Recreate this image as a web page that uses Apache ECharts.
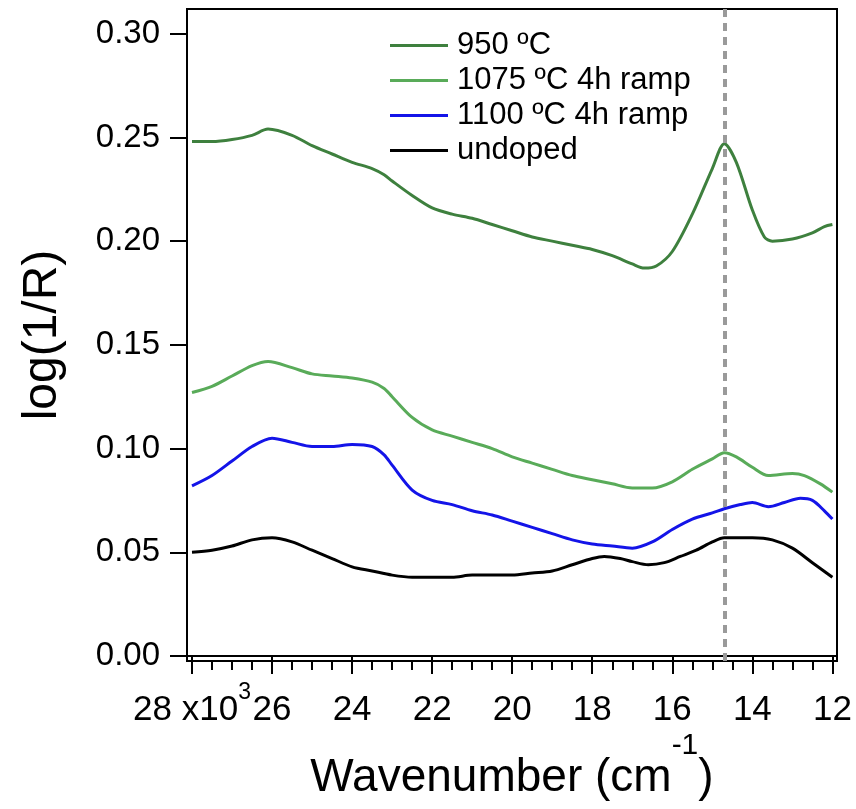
<!DOCTYPE html>
<html>
<head>
<meta charset="utf-8">
<script src="https://cdn.jsdelivr.net/npm/echarts@6/dist/echarts.min.js"></script>
<style>
  html, body { margin: 0; padding: 0; background: #fff; }
  #chart { width: 856px; height: 809px; }
</style>
</head>
<body>
<div id="chart"></div>
<script>
// wavenumber in units of 10^3 cm^-1
const wn950 = [28, 27.5, 27, 26.5, 26.1, 25.5, 25, 24.5, 24, 23.5, 23.2, 23, 22.5, 22, 21.5, 21, 20.5, 20, 19.5, 19, 18.5, 18, 17.5, 17, 16.7, 16.4, 16, 15.5, 15, 14.7, 14.4, 14, 13.7, 13.5, 13, 12.5, 12.2, 12]
const abs950 = [0.248, 0.248, 0.249, 0.251, 0.254, 0.251, 0.246, 0.242, 0.238, 0.235, 0.232, 0.229, 0.222, 0.216, 0.213, 0.211, 0.208, 0.205, 0.202, 0.200, 0.198, 0.196, 0.193, 0.189, 0.187, 0.188, 0.195, 0.213, 0.235, 0.247, 0.238, 0.215, 0.202, 0.200, 0.201, 0.204, 0.207, 0.208]

const wn1075 = [28, 27.5, 27, 26.5, 26.1, 25.5, 25, 24.5, 24, 23.5, 23.2, 23, 22.5, 22, 21.5, 21, 20.5, 20, 19.5, 19, 18.5, 18, 17.5, 17, 16.5, 16, 15.5, 15, 14.7, 14.4, 14, 13.6, 13, 12.7, 12.3, 12]
const abs1075 = [0.127, 0.130, 0.135, 0.140, 0.142, 0.139, 0.136, 0.135, 0.134, 0.132, 0.129, 0.125, 0.115, 0.109, 0.106, 0.103, 0.100, 0.096, 0.093, 0.090, 0.087, 0.085, 0.083, 0.081, 0.081, 0.084, 0.090, 0.095, 0.098, 0.096, 0.091, 0.087, 0.088, 0.087, 0.083, 0.079]

const wn1100 = [28, 27.5, 27, 26.5, 26, 25.5, 25, 24.5, 24, 23.5, 23.2, 23, 22.5, 22, 21.5, 21, 20.5, 20, 19.5, 19, 18.5, 18, 17.5, 17, 16.5, 16, 15.5, 15, 14.7, 14.3, 14, 13.6, 13.2, 12.8, 12.5, 12.2, 12]
const abs1100 = [0.082, 0.087, 0.094, 0.101, 0.105, 0.103, 0.101, 0.101, 0.102, 0.101, 0.097, 0.092, 0.080, 0.075, 0.073, 0.070, 0.068, 0.065, 0.062, 0.059, 0.056, 0.054, 0.053, 0.052, 0.055, 0.061, 0.066, 0.069, 0.071, 0.073, 0.074, 0.072, 0.074, 0.076, 0.075, 0.070, 0.066]

const wnUndoped = [28, 27.5, 27, 26.5, 26, 25.5, 25, 24.5, 24, 23.5, 23, 22.5, 22, 21.5, 21, 20.5, 20, 19.5, 19, 18.5, 18, 17.7, 17.3, 17, 16.6, 16.2, 15.8, 15.4, 15, 14.7, 14.3, 14, 13.5, 13, 12.5, 12]
const absUndoped = [0.050, 0.051, 0.053, 0.056, 0.057, 0.055, 0.051, 0.047, 0.043, 0.041, 0.039, 0.038, 0.038, 0.038, 0.039, 0.039, 0.039, 0.040, 0.041, 0.044, 0.047, 0.048, 0.047, 0.0455, 0.044, 0.045, 0.048, 0.051, 0.055, 0.057, 0.057, 0.057, 0.056, 0.052, 0.045, 0.038]

const peakPos = 14.7

const xMajorTicks = [12, 14, 16, 18, 20, 22, 24, 26, 28]
const xMinorTicks = [12.5, 13, 13.5, 14.5, 15, 15.5, 16.5, 17, 17.5, 18.5, 19, 19.5, 20.5, 21, 21.5, 22.5, 23, 23.5, 24.5, 25, 25.5, 26.5, 27, 27.5]
const yTicks = [0, 0.05, 0.1, 0.15, 0.2, 0.25, 0.3]

const pairs = (xs, ys) => xs.map((x, i) => [x, ys[i]])

const font = 'Liberation Sans, Arial, sans-serif'
const chart = echarts.init(document.getElementById('chart'))

const lineSeries = (name, color, xs, ys) => ({
  name,
  type: 'line',
  data: pairs(xs, ys),
  smooth: 0.3,
  symbol: 'none',
  lineStyle: { color, width: 3 },
  itemStyle: { color },
  silent: true
})

const series = [
  lineSeries('950 ºC', '#3e803e', wn950, abs950),
  lineSeries('1075 ºC 4h ramp', '#59ab59', wn1075, abs1075),
  lineSeries('1100 ºC 4h ramp', '#1414e8', wn1100, abs1100),
  lineSeries('undoped', '#000000', wnUndoped, absUndoped)
]
// dotted marker at the absorption peak
series[0].markLine = {
  silent: true,
  symbol: ['none', 'none'],
  label: { show: false },
  lineStyle: { color: '#9a9a9a', width: 4, type: [8, 6] },
  data: [{ xAxis: peakPos }]
}

chart.setOption({
  animation: false,
  grid: {
    left: 187, right: 19, top: 9, bottom: 148,
    outerBoundsMode: 'none',
    containLabel: false,
    show: true, borderColor: '#000', borderWidth: 2
  },
  legend: {
    orient: 'vertical',
    left: 385, top: 25,
    icon: 'rect',
    itemWidth: 58, itemHeight: 3,
    itemGap: 4,
    selectedMode: false,
    textStyle: { fontFamily: font, fontSize: 31, lineHeight: 30, color: '#000', padding: [0, 0, 0, 4] }
  },
  xAxis: [{
    type: 'value',
    min: 11.885, max: 28.125,
    inverse: true,
    position: 'bottom',
    splitLine: { show: false },
    axisLine: { show: true, lineStyle: { color: '#000', width: 2 } },
    axisTick: { show: true, customValues: xMajorTicks, length: 18, lineStyle: { color: '#000', width: 2 } },
    axisLabel: {
      customValues: xMajorTicks,
      margin: 20,
      fontFamily: font, fontSize: 35, color: '#000',
      lineHeight: 58,
      formatter: v => (v === 28 ? '28 x10{sup|3}' : String(v)),
      rich: { sup: { fontFamily: font, fontSize: 23, verticalAlign: 'top', lineHeight: 23, color: '#000' } }
    },
    name: 'Wavenumber (cm{sup|-1})',
    nameLocation: 'middle',
    nameGap: 70,
    nameMoveOverlap: false,
    nameTextStyle: {
      fontFamily: font, fontSize: 46, color: '#000', lineHeight: 95,
      rich: { sup: { fontFamily: font, fontSize: 30, verticalAlign: 'top', lineHeight: 30, color: '#000' } }
    }
  }, {
    type: 'value',
    min: 11.885, max: 28.125,
    inverse: true,
    position: 'bottom',
    splitLine: { show: false },
    axisLine: { show: false },
    axisTick: { show: true, customValues: xMinorTicks, length: 9, lineStyle: { color: '#000', width: 2 } },
    axisLabel: { show: false }
  }],
  yAxis: {
    type: 'value',
    min: -0.0024, max: 0.3119,
    splitLine: { show: false },
    axisLine: { show: true, lineStyle: { color: '#000', width: 2 } },
    axisTick: { show: true, customValues: yTicks, length: 17, lineStyle: { color: '#000', width: 2 } },
    axisLabel: {
      customValues: yTicks,
      margin: 27,
      fontFamily: font, fontSize: 33, color: '#000',
      formatter: v => v.toFixed(2)
    },
    name: 'log(1/R)',
    nameLocation: 'middle',
    nameGap: 120,
    nameMoveOverlap: false,
    nameTextStyle: { fontFamily: font, fontSize: 48, color: '#000' }
  },
  series
})
</script>
</body>
</html>
